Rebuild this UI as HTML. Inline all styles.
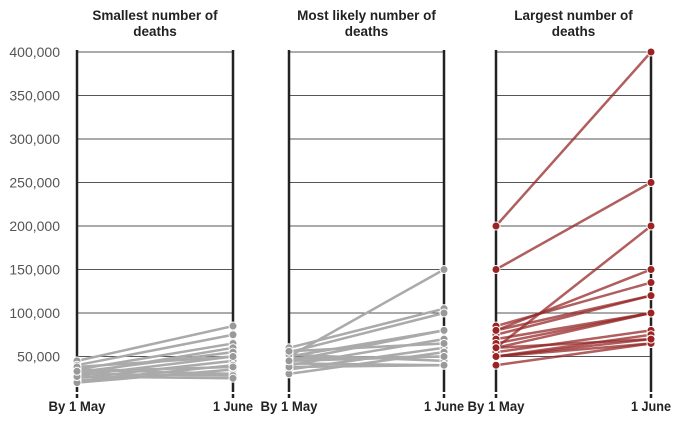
<!DOCTYPE html>
<html><head><meta charset="utf-8"><style>
body{margin:0;background:#fff;font-family:"Liberation Sans",sans-serif}
svg text{font-family:"Liberation Sans",sans-serif}
</style></head><body>
<svg id="c" width="680" height="425"></svg>
<script>
const yTicks=[50000,100000,150000,200000,250000,300000,350000,400000];
const tickLabels=["50,000","100,000","150,000","200,000","250,000","300,000","350,000","400,000"];
const panelTitles=[["Smallest number of","deaths"],["Most likely number of","deaths"],["Largest number of","deaths"]];
const smallStart=[45000,40000,35000,30000,32000,28000,25000,22000,20000,35000,30000,27000,38000,33000];
const smallEnd=[85000,75000,65000,60000,55000,50000,45000,40000,35000,30000,28000,25000,50000,38000];
const likelyStart=[50000,60000,55000,50000,45000,40000,35000,30000,48000,52000,42000,38000,56000,45000];
const likelyEnd=[150000,105000,100000,80000,80000,70000,60000,55000,50000,45000,40000,40000,65000,50000];
const largeStart=[200000,150000,60000,80000,85000,75000,80000,70000,65000,60000,55000,50000,50000,40000,50000,60000];
const largeEnd=[400000,250000,200000,150000,135000,120000,120000,100000,100000,100000,80000,75000,70000,65000,65000,70000];
const svg=document.getElementById('c');const NS='http://www.w3.org/2000/svg';
function y(v){return 400-v*(400-52)/400000;}
function mk(t,a,name){const e=document.createElementNS(NS,t);for(const k in a)e.setAttribute(k,a[k]);


svg.appendChild(e);return e;}
const panels=[[77,233],[289,444],[496,651]];
yTicks.forEach((v,i)=>{const t=mk('text',{x:60,y:y(v)+5,'text-anchor':'end','font-size':14,fill:'#555'},'y-tick-label');t.textContent=tickLabels[i];});
const data=[[smallStart,smallEnd,'#aaa','#999'],[likelyStart,likelyEnd,'#aaa','#999'],[largeStart,largeEnd,'rgba(150,40,40,0.75)','#9b2323']];
panels.forEach((p,pi)=>{
 yTicks.forEach(v=>mk('line',{x1:p[0],x2:p[1],y1:y(v),y2:y(v),stroke:'#555','stroke-width':1},'gridline'));
 panelTitles[pi].forEach((s,j)=>{const t=mk('text',{x:(p[0]+p[1])/2,y:20+j*16,'text-anchor':'middle','font-size':13.5,'font-weight':'bold',fill:'#222'},'panel-title');t.textContent=s;});
 [p[0],p[1]].forEach(x=>{mk('line',{x1:x,x2:x,y1:50,y2:392,stroke:'#222','stroke-width':2.5},'axis-line');
  mk('line',{x1:x,x2:x,y1:394,y2:398,stroke:'#222','stroke-width':2.5},'axis-tick');});
 const l1=mk('text',{x:p[0],y:411,'text-anchor':'middle','font-size':14,'font-weight':'bold',fill:'#222',textLength:57,lengthAdjust:'spacingAndGlyphs'},'x-label-start');l1.textContent='By 1 May';
 const l2=mk('text',{x:p[1],y:411,'text-anchor':'middle','font-size':14,'font-weight':'bold',fill:'#222',textLength:40,lengthAdjust:'spacingAndGlyphs'},'x-label-end');l2.textContent='1 June';
 const [s,e,lc,dc]=data[pi];
 s.forEach((v,i)=>mk('line',{x1:p[0],x2:p[1],y1:y(v),y2:y(e[i]),stroke:lc,'stroke-width':2.5},'slope-line'));
 s.forEach((v,i)=>{mk('circle',{cx:p[0],cy:y(v),r:4,fill:dc,stroke:'#fff','stroke-width':1},'start-point');
  mk('circle',{cx:p[1],cy:y(e[i]),r:4,fill:dc,stroke:'#fff','stroke-width':1},'end-point');});
});
</script>
</body></html>
